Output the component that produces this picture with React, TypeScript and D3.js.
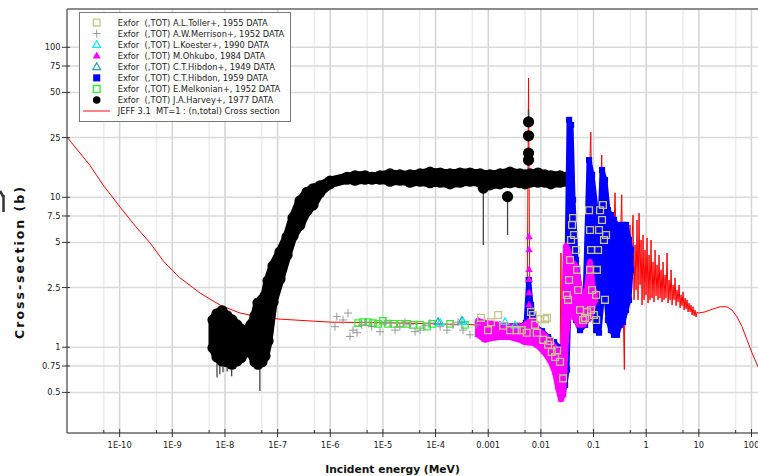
import React, { useRef, useEffect } from "react";
import * as d3 from "d3";

// JEFF 3.1 evaluated total cross section (MeV, barns)
const jeffE = [1e-11, 2.7e-11, 5e-11, 1.02e-10, 2e-10, 3.77e-10, 7e-10, 1.4e-9, 3.36e-9, 8.05e-9, 1.93e-8, 4.6e-8, 1.11e-7, 1e-6, 2.1e-5, 7e-4, 2.08e-3, 4.0e-3, 5.46e-3, 5.83e-3, 6.22e-3, 7.74e-3, 0.012, 0.0186, 0.0231, 0.0241, 0.0247, 0.0275, 0.03, 0.0343, 0.0358, 0.0374, 0.0426, 0.0508, 0.0605, 0.069, 0.0787, 0.0886, 0.0937, 0.102, 0.116, 0.133, 0.143, 0.151, 0.173, 0.197, 0.224, 0.256, 0.279, 0.319, 0.343, 0.363, 0.385, 0.397,
  0.414, 0.433, 0.452, 0.472, 0.493, 0.516, 0.539, 0.563, 0.588, 0.614, 0.641, 0.67, 0.7, 0.732, 0.764, 0.799, 0.834, 0.872, 0.91, 0.951, 0.994, 1.038, 1.084, 1.133, 1.183, 1.236, 1.291, 1.349, 1.409, 1.473, 1.538, 1.607, 1.679, 1.754, 1.833, 1.915, 2.0, 2.09, 2.18, 2.28, 2.38, 2.49, 2.6, 2.72, 2.84, 2.97, 3.1, 3.24, 3.38, 3.53, 3.69, 3.85, 4.03, 4.21, 4.4, 4.59, 4.8, 5.01, 5.24, 5.47, 5.71, 5.97, 6.24, 6.52, 6.81, 7.11, 7.43, 7.76, 8.11, 8.47, 8.85, 9.25, 9.66,
  13.1, 18.6, 25.3, 34.3, 42.7, 53.2, 66.2, 82.3, 102, 133];
const jeffS = [25.2, 16.4, 11.9, 8.6, 6.4, 4.96, 3.7, 2.9, 2.3, 1.91, 1.69, 1.59, 1.54, 1.47, 1.45, 1.41, 1.43, 1.45, 1.37, 62.4, 1.04, 1.21, 1.04, 0.82, 0.71, 4.25, 0.67, 0.6, 2.07, 5.19, 33.8, 4.45, 2.07, 2.81, 1.41, 2.07, 7.06, 27.2, 6.05, 9.6, 4.45, 8.2, 19.1, 5.19, 2.81, 4.45, 2.07, 10.7, 2.81, 4.45, 10.4, 2.07, 0.71, 3.82,
  6.05, 2.23, 4.45, 2.07, 6.54, 2.41, 5.19, 7.6, 2.07, 4.81, 2.41, 7.06, 2.07, 7.85, 2.6, 5.19, 1.91, 5.6, 2.07, 4.45, 2.23, 5.36, 1.97, 4.12, 2.07, 5.19, 2.13, 3.7, 2.0, 4.45, 2.2, 3.54, 2.07, 4.12, 2.13, 3.28, 2.0, 3.7, 2.07, 3.03, 2.13, 4.25, 1.97, 2.81, 2.07, 3.28, 1.91, 2.6, 2.07, 2.9, 1.89, 2.41, 2.0, 2.6, 1.83, 2.23, 1.89, 2.34, 1.77, 2.13, 1.8, 2.07, 1.72, 1.97, 1.72, 1.91, 1.64, 1.86, 1.62, 1.77, 1.59, 1.72, 1.69,
  1.72, 1.8, 1.86, 1.86, 1.77, 1.59, 1.37, 1.12, 0.92, 0.74];

// J.A.Harvey 1977: dense band, lower / upper envelope
const harveyE = [5.93e-9, 7.06e-9, 8.79e-9, 1.09e-8, 1.36e-8, 1.69e-8, 2.02e-8, 2.51e-8, 3.12e-8, 3.72e-8, 4.24e-8, 5.05e-8, 5.76e-8, 6.57e-8, 8.18e-8, 1.11e-7, 1.51e-7, 1.96e-7, 2.66e-7, 3.62e-7, 4.7e-7, 6.38e-7, 9.9e-7, 2.08e-6, 2.95e-6, 4.57e-6, 6.21e-6, 8.8e-6, 1.36e-5, 2.1e-5, 3.27e-5, 5.07e-5, 7.85e-5, 1.22e-4, 1.88e-4, 2.91e-4, 4.51e-4, 7.0e-4, 1.08e-3, 1.68e-3, 2.59e-3, 4.0e-3, 5.0e-3, 6.22e-3, 8.83e-3, 0.012, 0.0155, 0.0231, 0.0288];
const harveyHi = [1.52, 1.67, 1.75, 1.62, 1.52, 1.41, 1.32, 1.28, 1.41, 1.62, 1.97, 2.07, 2.2, 2.77, 3.48, 4.32, 5.43, 7.28, 9.45, 10.8, 11.4, 11.9, 12.8, 13.6, 13.9, 13.9, 13.6, 13.9, 14.3, 14.1, 14.1, 14.3, 14.7, 14.5, 14.3, 14.5, 14.5, 14.3, 14.1, 14.3, 14.7, 14.3, 14.1, 14.3, 14.5, 14.1, 13.9, 13.9, 13.6];
const harveyLo = [0.99, 0.86, 0.81, 0.8, 0.77, 0.81, 0.85, 0.93, 0.92, 0.8, 0.77, 0.8, 0.875, 1.1, 2.0, 2.85, 4.12, 5.52, 6.54, 8.11, 8.89, 10.8, 12.3, 13.2, 13.0, 13.2, 13.2, 13.2, 12.8, 13.0, 12.6, 12.8, 12.5, 12.6, 12.3, 12.6, 12.8, 12.6, 12.1, 12.3, 12.5, 12.5, 12.3, 12.6, 12.6, 12.6, 12.3, 12.6, 12.8];
const harveyPtE = [5.83e-3, 5.83e-3, 5.83e-3, 5.83e-3, 8.07e-4, 2.33e-3];
const harveyPtS = [31.8, 25.7, 19.7, 17.7, 11.5, 10.1];
const harveyErrE = [7.06e-9, 8.0e-9, 9.18e-9, 1.1e-8, 1.34e-8, 4.6e-8, 8.07e-4, 2.33e-3, 5.83e-3];
const harveyErrLo = [0.63, 0.66, 0.68, 0.69, 0.64, 0.51, 4.8, 5.6, 31.8];
const harveyErrHi = [0.86, 0.81, 0.81, 0.8, 0.77, 0.8, 11.5, 10.1, 38.8];

// M.Ohkubo 1984: band envelope + points on the 6 keV resonance
const ohkuboE = [6.4e-4, 8.7e-4, 1.18e-3, 1.68e-3, 2.59e-3, 4.0e-3, 5.0e-3, 5.58e-3, 6.22e-3, 7.1e-3, 8.83e-3, 0.0115, 0.0149, 0.0186, 0.0212, 0.0241, 0.0264, 0.0281, 0.03, 0.0328, 0.0374, 0.0445, 0.053, 0.0632, 0.0753, 0.0858, 0.0978, 0.107];
const ohkuboHi = [1.5, 1.45, 1.43, 1.41, 1.37, 1.35, 1.41, 1.45, 1.5, 1.5, 1.3, 1.21, 1.1, 0.99, 0.92, 0.79, 0.73, 2.07, 4.74, 4.45, 3.7, 3.54, 2.6, 2.13, 2.41, 3.7, 2.41, 2.34];
const ohkuboLo = [1.21, 1.12, 1.15, 1.17, 1.17, 1.12, 1.08, 1.08, 1.07, 1.07, 1.02, 0.93, 0.82, 0.68, 0.54, 0.45, 0.48, 0.71, 1.12, 1.59, 1.72, 1.57, 1.41, 1.41, 1.52, 1.57, 1.91, 2.07];
const ohkuboPtE = [5.96e-3, 5.96e-3, 5.96e-3, 5.96e-3, 5.96e-3, 5.96e-3];
const ohkuboPtS = [5.43, 4.45, 3.28, 2.81, 2.3, 1.91];

// C.T.Hibdon 1959: band envelope
const hibdonE = [2.08e-3, 2.83e-3, 4.0e-3, 5.22e-3, 5.88e-3, 6.5e-3, 8.09e-3, 0.0105, 0.0137, 0.0178, 0.0221, 0.0264, 0.0288, 0.0314, 0.0343, 0.0374, 0.0408, 0.0465, 0.0554, 0.069, 0.0822, 0.0937, 0.112, 0.127, 0.145, 0.165, 0.188, 0.214, 0.245, 0.279, 0.319, 0.363, 0.414, 0.472, 0.515];
const hibdonHi = [1.39, 1.37, 1.37, 1.45, 2.81, 1.91, 1.36, 1.28, 1.17, 1.08, 1.0, 0.82, 1.3, 3.7, 32.8, 30.3, 9.6, 3.82, 2.41, 2.07, 17.7, 14.1, 8.2, 4.45, 15.2, 13.0, 8.2, 7.6, 7.06, 6.54, 5.6, 6.54, 6.54, 5.19, 4.45];
const hibdonLo = [1.33, 1.3, 1.25, 1.2, 1.3, 1.15, 1.1, 1.02, 0.95, 0.82, 0.64, 0.49, 0.56, 0.71, 2.07, 4.12, 2.41, 1.52, 1.3, 1.41, 4.45, 2.07, 1.3, 1.25, 2.07, 2.81, 1.52, 1.3, 1.21, 1.21, 1.41, 1.47, 1.77, 2.07, 3.28];

const tollerE = [7.3e-4, 9.9e-4, 1.13e-3, 1.54e-3, 1.91e-3, 2.59e-3, 3.48e-3, 4.33e-3, 5.38e-3, 6.5e-3, 7.1e-3, 7.74e-3, 8.34e-3, 9.64e-3, 0.011, 0.012, 0.0131, 0.0137, 0.0149, 0.0161, 0.0186, 0.0203, 0.0231, 0.0264, 0.031, 0.0328, 0.0343, 0.0358, 0.0374, 0.0391, 0.0408, 0.0426, 0.0465, 0.0486, 0.0508, 0.0554, 0.0632, 0.069, 0.0753, 0.0822, 0.0858, 0.0897, 0.0858, 0.0937, 0.0897, 0.102, 0.112, 0.116, 0.122, 0.127, 0.133, 0.145, 0.158, 0.173, 0.151, 0.165, 0.112];
const tollerS = [1.57, 1.3, 1.47, 1.64, 1.39, 1.3, 1.3, 1.3, 1.25, 1.72, 1.64, 1.41, 1.25, 1.54, 1.12, 1.54, 1.57, 1.04, 1.1, 0.93, 0.86, 0.95, 0.8, 0.62, 2.23, 2.07, 2.81, 3.82, 5.19, 6.54, 7.28, 5.6, 4.45, 3.28, 2.41, 1.77, 1.52, 1.57, 1.72, 8.2, 6.05, 4.45, 3.28, 2.41, 1.77, 1.64, 2.23, 3.28, 4.45, 6.05, 8.2, 7.06, 5.19, 5.6, 8.89, 2.07, 1.52];

const merrisonE = [1.23e-6, 1.33e-6, 1.75e-6, 2.17e-6, 2.37e-6, 2.7e-6, 3.22e-6, 3.96e-6, 4.77e-6, 6.13e-6, 8.8e-6, 1.1e-5, 1.36e-5, 1.7e-5, 2.1e-5, 2.63e-5, 3.27e-5, 4.07e-5, 5.07e-5, 6.3e-5, 7.85e-5, 1.22e-4, 1.65e-4, 2.14e-4, 2.67e-4, 3.32e-4, 4.51e-4, 6.05e-4];
const merrisonS = [1.37, 1.6, 1.52, 1.69, 1.18, 1.3, 1.25, 1.41, 1.47, 1.37, 1.27, 1.47, 1.45, 1.3, 1.37, 1.47, 1.41, 1.27, 1.3, 1.39, 1.45, 1.37, 1.3, 1.41, 1.47, 1.3, 1.21, 1.41];

const melkonianE = [3.37e-6, 4.19e-6, 5.21e-6, 6.49e-6, 8.07e-6, 1.0e-5, 1.25e-5, 1.63e-5, 2.1e-5, 2.87e-5, 3.73e-5, 5.07e-5, 6.88e-5, 8.57e-5, 1.88e-4, 3.62e-4];
const melkonianS = [1.45, 1.47, 1.47, 1.45, 1.43, 1.5, 1.43, 1.43, 1.43, 1.43, 1.41, 1.41, 1.37, 1.43, 1.43, 1.41];

const koesterE = [1.22e-4, 3.32e-4, 2.08e-3, 3.23e-3];
const koesterS = [1.45, 1.47, 1.47, 1.39];
const hibdon49E = [1.11e-4, 3.18e-4];
const hibdon49S = [1.47, 1.5];

const xTickVals = [1e-10, 1e-9, 1e-8, 1e-7, 1e-6, 1e-5, 1e-4, 1e-3, 1e-2, 0.1, 1, 10, 100];
const xTickLabels = ["1E-10", "1E-9", "1E-8", "1E-7", "1E-6", "1E-5", "1E-4", "0.001", "0.01", "0.1", "1", "10", "100"];
const xMinorVals = [5e-11, 5e-10, 5e-9, 5e-8, 5e-7, 5e-6, 5e-5, 5e-4, 5e-3, 0.05, 0.5, 5, 50];
const yTickVals = [0.5, 0.75, 1, 2.5, 5, 7.5, 10, 25, 50, 75, 100];
const yTickLabels = ["0.5", "0.75", "1", "2.5", "5", "7.5", "10", "25", "50", "75", "100"];

const legendLabels = [
  "Exfor  (,TOT) A.L.Toller+, 1955 DATA",
  "Exfor  (,TOT) A.W.Merrison+, 1952 DATA",
  "Exfor  (,TOT) L.Koester+, 1990 DATA",
  "Exfor  (,TOT) M.Ohkubo, 1984 DATA",
  "Exfor  (,TOT) C.T.Hibdon+, 1949 DATA",
  "Exfor  (,TOT) C.T.Hibdon, 1959 DATA",
  "Exfor  (,TOT) E.Melkonian+, 1952 DATA",
  "Exfor  (,TOT) J.A.Harvey+, 1977 DATA",
  "JEFF 3.1  MT=1 : (n,total) Cross section",
];
const legendKinds = ["sqOpen", "plus", "triOpen", "triFill", "triOpen", "sqFill", "sqOpen", "circle", "line"];
const legendColors = ["#c5c58a", "#999999", "#00e8ff", "#ff00ff", "#20a0a0", "#0000ff", "#33ee33", "#000000", "#ff5a5a"];

const zip = (a: number[], b: number[]) => a.map((v, i) => [v, b[i]] as [number, number]);

export default function App() {
  const svgRef = useRef<SVGSVGElement>(null);

  useEffect(() => {
    const svg = d3.select(svgRef.current);
    svg.selectAll("*").remove();

    const width = 758;
    const height = 476;
    const left = 67, top = 9, bottom = 433;
    const font = "DejaVu Sans, sans-serif";

    const x = d3.scaleLog().domain([1e-11, 100]).range([left, 751.5]);
    const y = d3.scaleLog().domain([0.268, 180]).range([bottom, top]);

    svg.attr("width", width).attr("height", height);

    svg.append("defs").append("clipPath").attr("id", "plotclip")
      .append("rect").attr("x", left).attr("y", top).attr("width", width - left).attr("height", bottom - top);

    // grid
    const grid = svg.append("g");
    grid.selectAll("line.xm").data(xMinorVals).join("line")
      .attr("x1", d => x(d)).attr("x2", d => x(d)).attr("y1", top).attr("y2", bottom)
      .attr("stroke", "#ececec").attr("stroke-width", 1.5);
    grid.selectAll("line.xM").data(xTickVals).join("line")
      .attr("x1", d => x(d)).attr("x2", d => x(d)).attr("y1", top).attr("y2", bottom)
      .attr("stroke", "#d4d4d4").attr("stroke-width", 1.5);
    grid.selectAll("line.y").data(yTickVals).join("line")
      .attr("x1", left).attr("x2", width).attr("y1", d => y(d)).attr("y2", d => y(d))
      .attr("stroke", "#dadada").attr("stroke-width", 1.5);

    const plot = svg.append("g").attr("clip-path", "url(#plotclip)");
    const sym = (type: d3.SymbolType, size: number) => d3.symbol().type(type).size(size)()!;
    const tr = (d: [number, number]) => `translate(${x(d[0])},${y(d[1])})`;

    // JEFF curve
    const line = d3.line<[number, number]>().x(d => x(d[0])).y(d => y(d[1]));
    plot.append("path").attr("d", line(zip(jeffE, jeffS))!)
      .attr("fill", "none").attr("stroke", "#ff0000").attr("stroke-width", 1);

    const band = (E: number[], lo: number[], hi: number[], color: string, w: number) => {
      const idx = d3.range(E.length);
      const area = d3.area<number>().x(i => x(E[i])).y0(i => y(lo[i])).y1(i => y(hi[i]));
      plot.append("path").attr("d", area(idx)!)
        .attr("fill", color).attr("stroke", color).attr("stroke-width", w).attr("stroke-linejoin", "round");
    };
    const edges = (E: number[], lo: number[], hi: number[]) =>
      E.flatMap((e, i) => [[e, lo[i]], [e, hi[i]]] as [number, number][]);

    // Harvey
    plot.selectAll("line.herr").data(d3.range(harveyErrE.length)).join("line")
      .attr("x1", i => x(harveyErrE[i])).attr("x2", i => x(harveyErrE[i]))
      .attr("y1", i => y(harveyErrLo[i])).attr("y2", i => y(harveyErrHi[i]))
      .attr("stroke", "#444").attr("stroke-width", 1.3);
    band(harveyE, harveyLo, harveyHi, "#000", 9);
    plot.selectAll("circle.h").data([...edges(harveyE, harveyLo, harveyHi), ...zip(harveyPtE, harveyPtS)]).join("circle")
      .attr("cx", d => x(d[0])).attr("cy", d => y(d[1])).attr("r", 5.6).attr("fill", "#000");

    // Melkonian
    plot.selectAll("path.mel").data(zip(melkonianE, melkonianS)).join("path")
      .attr("d", sym(d3.symbolSquare, 42)).attr("transform", tr)
      .attr("fill", "none").attr("stroke", "#33ee33").attr("stroke-width", 1.3);

    // Hibdon 1959
    band(hibdonE, hibdonLo, hibdonHi, "#0000ff", 5);
    plot.selectAll("path.hib").data(edges(hibdonE, hibdonLo, hibdonHi)).join("path")
      .attr("d", sym(d3.symbolSquare, 38)).attr("transform", tr).attr("fill", "#0000ff");

    // Hibdon 1949
    plot.selectAll("path.h49").data(zip(hibdon49E, hibdon49S)).join("path")
      .attr("d", sym(d3.symbolTriangle, 24)).attr("transform", tr)
      .attr("fill", "none").attr("stroke", "#20a0a0").attr("stroke-width", 1.2);

    // Ohkubo
    band(ohkuboE, ohkuboLo, ohkuboHi, "#ff00ff", 6);
    plot.selectAll("path.ohk").data([...edges(ohkuboE, ohkuboLo, ohkuboHi), ...zip(ohkuboPtE, ohkuboPtS)]).join("path")
      .attr("d", sym(d3.symbolTriangle, 24)).attr("transform", tr).attr("fill", "#ff00ff");

    // Koester
    plot.selectAll("path.koe").data(zip(koesterE, koesterS)).join("path")
      .attr("d", sym(d3.symbolTriangle, 24)).attr("transform", tr)
      .attr("fill", "none").attr("stroke", "#00e8ff").attr("stroke-width", 1.2);

    // Merrison
    plot.selectAll("path.mer").data(zip(merrisonE, merrisonS)).join("path")
      .attr("d", d => `M${x(d[0]) - 4},${y(d[1])}h8M${x(d[0])},${y(d[1]) - 4}v8`)
      .attr("stroke", "#999").attr("stroke-width", 1);

    // Toller
    plot.selectAll("path.tol").data(zip(tollerE, tollerS)).join("path")
      .attr("d", sym(d3.symbolSquare, 46)).attr("transform", tr)
      .attr("fill", "none").attr("stroke", "#c5c58a").attr("stroke-width", 1.3);

    // axes frame
    const frame = svg.append("g").attr("stroke", "#666").attr("stroke-width", 1.5);
    frame.append("line").attr("x1", left).attr("x2", width).attr("y1", top).attr("y2", top);
    frame.append("line").attr("x1", left).attr("x2", width).attr("y1", bottom).attr("y2", bottom);
    frame.append("line").attr("x1", left).attr("x2", left).attr("y1", top).attr("y2", bottom);

    const ticks = svg.append("g").attr("stroke", "#333").attr("stroke-width", 1);
    ticks.selectAll("line.xt").data(xTickVals).join("line")
      .attr("x1", d => x(d)).attr("x2", d => x(d)).attr("y1", bottom - 4).attr("y2", bottom + 4);
    ticks.selectAll("line.xmt").data(xMinorVals).join("line")
      .attr("x1", d => x(d)).attr("x2", d => x(d)).attr("y1", bottom - 3).attr("y2", bottom);
    ticks.selectAll("line.yt").data(yTickVals).join("line")
      .attr("x1", left - 5).attr("x2", left + 3).attr("y1", d => y(d)).attr("y2", d => y(d));

    svg.append("g").selectAll("text").data(xTickVals).join("text")
      .attr("x", d => x(d)).attr("y", 448).attr("text-anchor", "middle")
      .style("font-family", font).style("font-size", "8.3px").attr("fill", "#222")
      .text((d, i) => xTickLabels[i]);
    svg.append("g").selectAll("text").data(yTickVals).join("text")
      .attr("x", 60.5).attr("y", d => y(d) + 3).attr("text-anchor", "end")
      .style("font-family", font).style("font-size", "8.3px").attr("fill", "#222")
      .text((d, i) => yTickLabels[i]);

    svg.append("text").attr("x", 392.5).attr("y", 473).attr("text-anchor", "middle")
      .style("font-family", font).style("font-size", "10.7px").style("font-weight", "bold").attr("fill", "#111")
      .text("Incident energy (MeV)");
    svg.append("text").attr("transform", "translate(24,262) rotate(-90)").attr("text-anchor", "middle")
      .style("font-family", font).style("font-size", "12.5px").style("font-weight", "bold")
      .style("letter-spacing", "2px").attr("fill", "#111")
      .text("Cross-section (b)");

    // clipped glyph at far left edge
    svg.append("path").attr("d", "M0,191 L3.5,197 M3.5,195 L3.5,212").attr("fill", "none")
      .attr("stroke", "#333").attr("stroke-width", 2.5);

    // legend
    const lg = svg.append("g");
    lg.append("rect").attr("x", 79.5).attr("y", 12.5).attr("width", 211).attr("height", 109)
      .attr("fill", "#fff").attr("stroke", "#777").attr("stroke-width", 1);
    const rows = lg.selectAll("g.row").data(legendLabels).join("g")
      .attr("transform", (d, i) => `translate(0,${22.6 + i * 11.05})`);
    rows.each(function (d, i) {
      const g = d3.select(this);
      const k = legendKinds[i];
      const c = legendColors[i];
      const cx = 96.7;
      if (k === "sqOpen") g.append("path").attr("d", sym(d3.symbolSquare, 46)).attr("transform", `translate(${cx},0)`).attr("fill", "none").attr("stroke", c).attr("stroke-width", 1.3);
      if (k === "sqFill") g.append("path").attr("d", sym(d3.symbolSquare, 50)).attr("transform", `translate(${cx},0)`).attr("fill", c);
      if (k === "triOpen") g.append("path").attr("d", sym(d3.symbolTriangle, 26)).attr("transform", `translate(${cx},0.5)`).attr("fill", "none").attr("stroke", c).attr("stroke-width", 1.2);
      if (k === "triFill") g.append("path").attr("d", sym(d3.symbolTriangle, 28)).attr("transform", `translate(${cx},0.5)`).attr("fill", c);
      if (k === "circle") g.append("circle").attr("cx", cx).attr("cy", 0).attr("r", 3.8).attr("fill", c);
      if (k === "plus") g.append("path").attr("d", `M${cx - 4},0h8M${cx},-4v8`).attr("stroke", c).attr("stroke-width", 1);
      if (k === "line") g.append("line").attr("x1", 83).attr("x2", 110).attr("y1", 0).attr("y2", 0).attr("stroke", c).attr("stroke-width", 1.5);
      g.append("text").attr("x", 117.7).attr("y", 3).style("font-family", font).style("font-size", "8.3px")
        .style("white-space", "pre").attr("fill", "#222").text(d);
    });
  }, []);

  return (
    <div style={{ position: "absolute", left: 0, top: 0 }}>
      <svg ref={svgRef} style={{ display: "block" }} />
    </div>
  );
}
